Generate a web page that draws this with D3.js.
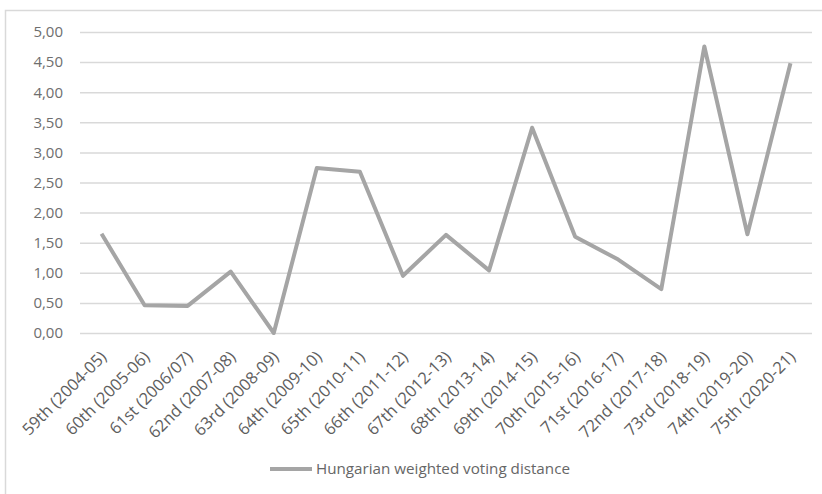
<!DOCTYPE html>
<html>
<head>
<meta charset="utf-8">
<script src="https://cdn.jsdelivr.net/npm/d3@7"></script>
<style>
  html, body { margin: 0; padding: 0; background: #fff; }
  svg { display: block; }
  text { font-family: "Open Sans", "Noto Sans", sans-serif; fill: #666; }
</style>
</head>
<body>
<svg id="chart" width="822" height="494"></svg>
<script>
// UN General Assembly sessions
const sessions = [
  "59th (2004-05)", "60th (2005-06)", "61st (2006/07)", "62nd (2007-08)",
  "63rd (2008-09)", "64th (2009-10)", "65th (2010-11)", "66th (2011-12)",
  "67th (2012-13)", "68th (2013-14)", "69th (2014-15)", "70th (2015-16)",
  "71st (2016-17)", "72nd (2017-18)", "73rd (2018-19)", "74th (2019-20)",
  "75th (2020-21)"
];
// Hungarian weighted voting distance per session
const distance = [
  1.65, 0.46, 0.45, 1.02, 0.00, 2.74, 2.68, 0.95, 1.63,
  1.04, 3.41, 1.60, 1.22, 0.73, 4.76, 1.64, 4.48
];
const yTicks = [0, 0.5, 1, 1.5, 2, 2.5, 3, 3.5, 4, 4.5, 5];
const seriesName = "Hungarian weighted voting distance";

const svg = d3.select("#chart");
const plot = { left: 80, right: 812, top: 32, bottom: 333 };

// outer chart frame
svg.append("rect")
  .attr("x", 5.5).attr("y", 10.5)
  .attr("width", 840).attr("height", 520)
  .attr("fill", "none").attr("stroke", "#d9d9d9").attr("stroke-width", 1.5);

const x = d3.scaleBand().domain(sessions).range([plot.left, plot.right]).padding(0);
const y = d3.scaleLinear().domain([0, 5]).range([plot.bottom, plot.top]);

// horizontal gridlines + value labels
const yAxis = d3.axisLeft(y).tickValues(yTicks)
  .tickSize(-(plot.right - plot.left)).tickPadding(17)
  .tickFormat(d => d3.format(".2f")(d).replace(".", ","));
const gy = svg.append("g").attr("transform", `translate(${plot.left},0)`).call(yAxis);
gy.select(".domain").remove();
gy.attr("font-family", null).attr("font-size", null);
gy.selectAll(".tick line").attr("stroke", "#d9d9d9").attr("stroke-width", 1.5);
gy.selectAll(".tick text").attr("font-size", 15).style("fill", "#6e6e6e");

// category labels, rotated
const xAxis = d3.axisBottom(x).tickSize(0).tickPadding(0);
const gx = svg.append("g").attr("transform", `translate(0,${plot.bottom})`).call(xAxis);
gx.select(".domain").remove();
gx.attr("font-family", null).attr("font-size", null);
gx.selectAll(".tick text")
  .attr("font-size", 16.5)
  .style("fill", "#5e5e5e")
  .attr("text-anchor", "end")
  .attr("dy", 0)
  .attr("y", 0)
  .attr("transform", "translate(6,25) rotate(-45)");

// the series line
const line = d3.line()
  .x((d, i) => x(sessions[i]) + x.bandwidth() / 2)
  .y(d => y(d));
svg.append("path")
  .datum(distance)
  .attr("d", line)
  .attr("fill", "none")
  .attr("stroke", "#a5a5a5")
  .attr("stroke-width", 4)
  .attr("stroke-linejoin", "round");

// legend
const lg = svg.append("g").attr("transform", "translate(270,469)");
lg.append("line").attr("x1", 0).attr("x2", 42).attr("y1", 0).attr("y2", 0)
  .attr("stroke", "#a5a5a5").attr("stroke-width", 4);
lg.append("text").attr("x", 46).attr("y", 5).attr("font-size", 15.2)
  .style("fill", "#666").text(seriesName);
</script>
</body>
</html>
